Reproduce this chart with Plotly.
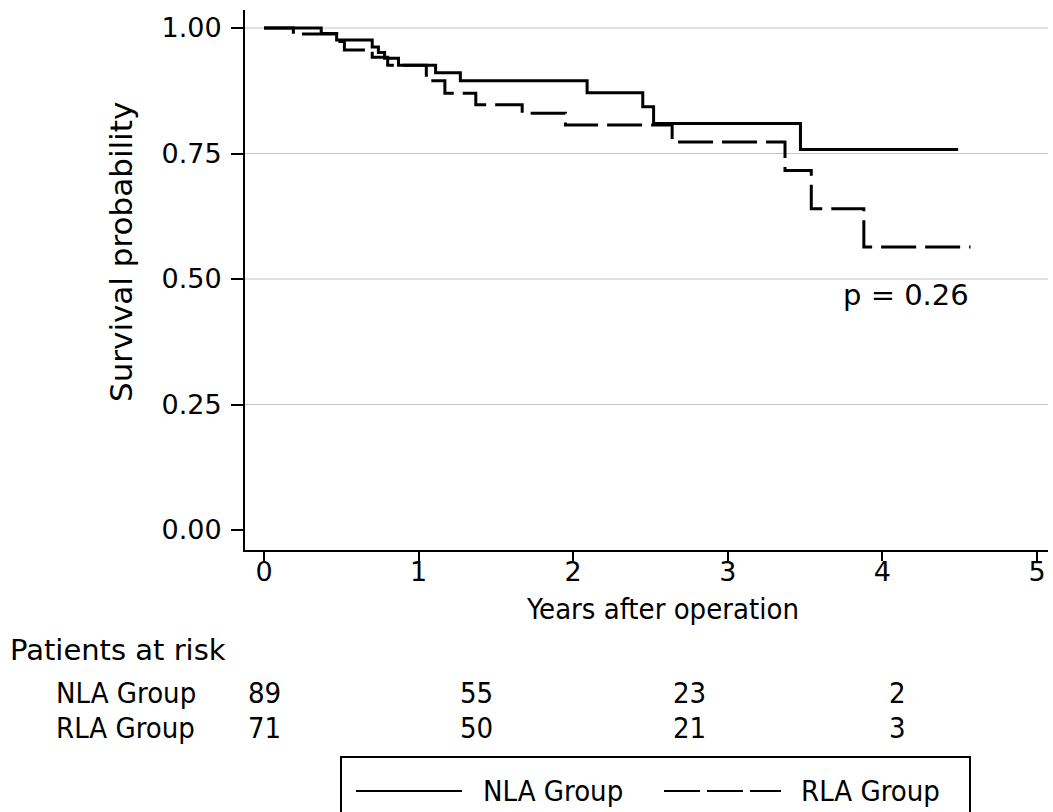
import plotly.graph_objects as go

# Kaplan-Meier step estimates (years after operation, survival probability)
nla_time = [0, 0.37, 0.47, 0.70, 0.74, 0.78, 0.87, 1.11, 1.27, 2.09, 2.45, 2.52, 3.47, 4.49]
nla_surv = [1.0, 0.989, 0.976, 0.962, 0.951, 0.940, 0.926, 0.911, 0.895, 0.871, 0.843, 0.810, 0.758, 0.758]

rla_time = [0, 0.19, 0.47, 0.52, 0.70, 0.80, 1.05, 1.17, 1.37, 1.67, 1.95, 2.64, 3.37, 3.54, 3.88, 4.57]
rla_surv = [1.0, 0.988, 0.973, 0.956, 0.942, 0.926, 0.895, 0.870, 0.847, 0.830, 0.807, 0.773, 0.716, 0.640, 0.564, 0.564]

# Numbers at risk
risk_groups = ["NLA Group", "RLA Group"]
nla_at_risk = ["89", "55", "23", "2"]
rla_at_risk = ["71", "50", "21", "3"]

x_ticks = [0, 1, 2, 3, 4, 5]
y_ticks = [0, 0.25, 0.5, 0.75, 1.0]
y_tick_text = ["0.00", "0.25", "0.50", "0.75", "1.00"]
grid_levels = [0.25, 0.5, 0.75, 1.0]
p_value_text = "p = 0.26"

W, H = 1053, 812
L, R, T, B = 245, 5, 10, 262
PW, PH = W - L - R, H - T - B

REG = "DejaVu Sans, Liberation Sans, Arial, sans-serif"
COND = "DejaVu Sans Condensed, Liberation Sans Narrow, DejaVu Sans, sans-serif"


def px(x):
    return (x - L) / PW


def py(y):
    return (H - B - y) / PH


def label(x, y, text, size, family=COND, xanchor="center", angle=0):
    return dict(x=px(x), y=py(y), xref="paper", yref="paper", text=text,
                xanchor=xanchor, yanchor="middle", textangle=angle, showarrow=False,
                font=dict(family=family, size=size, color="black"))


fig = go.Figure()
fig.add_trace(go.Scatter(x=nla_time, y=nla_surv, mode="lines", line_shape="hv",
                         line=dict(color="black", width=3), name="NLA Group",
                         showlegend=False))
fig.add_trace(go.Scatter(x=rla_time, y=rla_surv, mode="lines", line_shape="hv",
                         line=dict(color="black", width=3, dash="35px,9px"),
                         name="RLA Group", showlegend=False))

annotations = [
    label(121, 252, "Survival probability", 31, family=REG, angle=-90),
    label(662, 609, "Years after operation", 29),
    dict(x=4.15, y=0.468, xref="x", yref="y", text=p_value_text, xanchor="center",
         yanchor="middle", showarrow=False, font=dict(family=REG, size=29, color="black")),
    label(8, 650, "Patients at risk", 29, family=REG, xanchor="left"),
]
risk_x = [264, 476, 689, 897]
for row, (grp, vals) in enumerate(zip(risk_groups, [nla_at_risk, rla_at_risk])):
    yy = 693 + row * 35
    annotations.append(label(54, yy, grp, 29, xanchor="left"))
    for xv, v in zip(risk_x, vals):
        annotations.append(label(xv, yy, v, 29))
annotations.append(label(481, 791, "NLA Group", 29, xanchor="left"))
annotations.append(label(799, 791, "RLA Group", 29, xanchor="left"))

shapes = [
    dict(type="line", xref="paper", yref="y", x0=0, x1=1, y0=g, y1=g, layer="below",
         line=dict(color="#c4c4c4", width=1))
    for g in grid_levels
]
shapes += [
    dict(type="rect", xref="paper", yref="paper", x0=px(341), x1=px(970),
         y0=py(757), y1=py(830), line=dict(color="black", width=2)),
    dict(type="line", xref="paper", yref="paper", x0=px(356), x1=px(462),
         y0=py(791), y1=py(791), line=dict(color="black", width=2)),
    dict(type="line", xref="paper", yref="paper", x0=px(664), x1=px(781),
         y0=py(791), y1=py(791), line=dict(color="black", width=2, dash="36px,7px")),
]

fig.update_layout(
    width=W, height=H,
    margin=dict(l=L, r=R, t=T, b=B),
    paper_bgcolor="white", plot_bgcolor="white",
    showlegend=False,
    annotations=annotations,
    shapes=shapes,
    xaxis=dict(range=[(L - 264) / 154.6, (W - R - 264) / 154.6], tickvals=x_ticks,
               showgrid=False, zeroline=False, showline=True, linecolor="black",
               linewidth=2, ticks="outside", ticklen=9, tickwidth=2, tickcolor="black",
               ticklabelstandoff=-12,
               tickfont=dict(family=REG, size=27, color="black")),
    yaxis=dict(range=[-0.0398, 1.0359], tickvals=y_ticks, ticktext=y_tick_text,
               showgrid=False, zeroline=False,
               showline=True, linecolor="black", linewidth=2, ticks="outside",
               ticklen=12, tickwidth=2, tickcolor="black", ticklabelstandoff=4,
               tickfont=dict(family=REG, size=27, color="black")),
)

fig.write_html("out.html")
